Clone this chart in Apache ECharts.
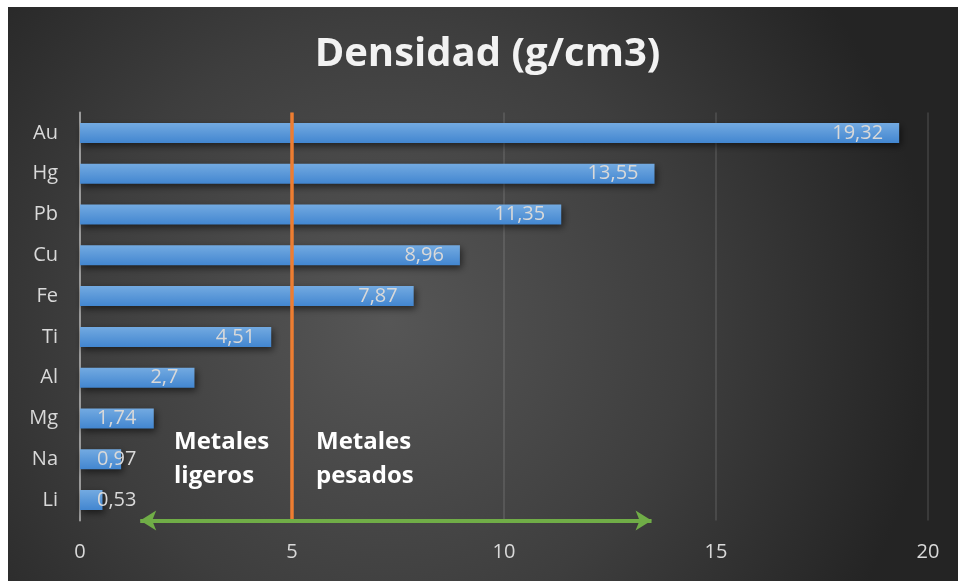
<!DOCTYPE html>
<html>
<head>
<meta charset="utf-8">
<script src="https://cdn.jsdelivr.net/npm/echarts@6/dist/echarts.min.js"></script>
<style>
html,body{margin:0;padding:0;background:#ffffff;}
#chart{position:absolute;left:8px;top:7px;width:950px;height:574px;}
</style>
</head>
<body>
<div id="chart"></div>
<script>
// Data
var categories = ['Li', 'Na', 'Mg', 'Al', 'Ti', 'Fe', 'Cu', 'Pb', 'Hg', 'Au'];
var densities = [0.53, 0.97, 1.74, 2.7, 4.51, 7.87, 8.96, 11.35, 13.55, 19.32];
var xTicks = [0, 5, 10, 15, 20];
var boundaryValue = 5;            // light / heavy metal boundary
var arrowRange = [1.42, 13.48];   // green double arrow extent
var titleText = 'Densidad (g/cm3)';
var leftNote = 'Metales\nligeros';
var rightNote = 'Metales\npesados';

var chart = echarts.init(document.getElementById('chart'));

var barData = densities.map(function (v) {
  var item = { value: v };
  if (v < 2) {
    item.label = { position: 'insideLeft', distance: 17 };
  }
  return item;
});

var option = {
  animation: false,
  backgroundColor: {
    type: 'radial', x: 0.4, y: 0.55, r: 0.95,
    colorStops: [
      { offset: 0, color: '#565656' },
      { offset: 0.55, color: '#3e3e3e' },
      { offset: 1, color: '#242424' }
    ]
  },
  textStyle: { fontFamily: 'Open Sans' },
  grid: { left: 72, right: 30, top: 105.6, bottom: 60.6, containLabel: false },
  xAxis: {
    type: 'value', min: xTicks[0], max: xTicks[xTicks.length - 1], interval: 5,
    axisLine: { show: false },
    axisTick: { show: false },
    axisLabel: { color: '#d9d9d9', fontSize: 20, fontFamily: 'Open Sans', margin: 22 },
    splitLine: { show: true, lineStyle: { color: 'rgba(255,255,255,0.1)', width: 2 } }
  },
  yAxis: [
    {
      type: 'category', data: categories,
      axisLine: { show: true, lineStyle: { color: '#9a9a9a', width: 2 } },
      axisTick: { show: false },
      axisLabel: { color: '#d9d9d9', fontSize: 20, fontFamily: 'Open Sans', margin: 22 }
    },
    { type: 'value', min: 0, max: 1, show: false }
  ],
  series: [
    {
      type: 'bar', data: barData, barWidth: 20, z: 2,
      itemStyle: {
        color: {
          type: 'linear', x: 0, y: 0, x2: 0, y2: 1,
          colorStops: [
            { offset: 0, color: '#73aae1' },
            { offset: 1, color: '#4286d0' }
          ]
        },
        shadowColor: 'rgba(0,0,0,0.55)', shadowBlur: 7, shadowOffsetX: 2, shadowOffsetY: 3
      },
      label: {
        show: true, position: 'insideRight', distance: 16,
        color: '#d9d9d9', fontSize: 20, fontFamily: 'Open Sans',
        formatter: function (p) { return String(p.value).replace('.', ','); }
      },
      silent: true
    },
    {
      type: 'line', yAxisIndex: 1, data: [[0, 0]], symbol: 'none',
      lineStyle: { opacity: 0 }, silent: true, clip: false, z: 5,
      markLine: {
        silent: true, animation: false,
        label: { show: false },
        emphasis: { disabled: true },
        data: [
          [
            { coord: [boundaryValue, 0], symbol: 'none',
              lineStyle: { color: '#ed7d31', width: 3.5, type: 'solid' } },
            { coord: [boundaryValue, 1], symbol: 'none' }
          ],
          [
            { coord: [arrowRange[0], 0], symbol: 'arrow', symbolSize: [15, 16],
              lineStyle: { color: '#70ad47', width: 4, type: 'solid' } },
            { coord: [arrowRange[1], 0], symbol: 'arrow', symbolSize: [15, 16] }
          ]
        ],
        lineStyle: { color: '#ed7d31', width: 3.5, type: 'solid' }
      }
    }
  ],
  graphic: [
    {
      type: 'text', x: 479.5, y: 48, z: 10,
      style: {
        text: titleText, fill: '#f2f2f2',
        font: 'bold 40px "Open Sans"', align: 'center', verticalAlign: 'middle',
        shadowColor: 'rgba(0,0,0,0.7)', shadowBlur: 5, shadowOffsetX: 1, shadowOffsetY: 2
      }
    },
    {
      type: 'text', x: 166, y: 418, z: 10,
      style: { text: leftNote, fill: '#ffffff', font: 'bold 24px "Open Sans"', lineHeight: 34 }
    },
    {
      type: 'text', x: 308, y: 418, z: 10,
      style: { text: rightNote, fill: '#ffffff', font: 'bold 24px "Open Sans"', lineHeight: 34 }
    }
  ]
};
chart.setOption(option);
</script>
</body>
</html>
